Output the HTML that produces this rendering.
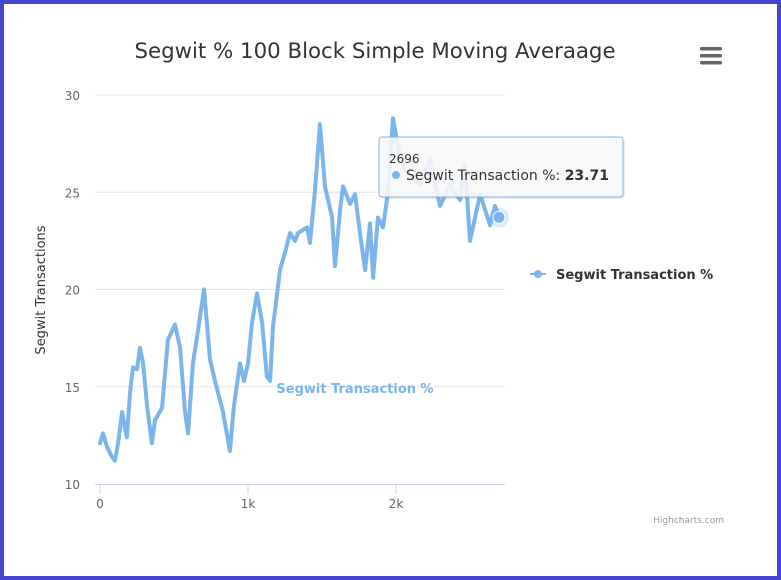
<!DOCTYPE html>
<html><head><meta charset="utf-8"><style>
html,body{margin:0;padding:0;background:#fff}
#wrap{position:relative;width:781px;height:580px;box-sizing:border-box;border:4px solid #4545d1;background:#fff;overflow:hidden}
svg{position:absolute;left:-4px;top:-4px}
text{font-family:"DejaVu Sans","Liberation Sans",sans-serif}
</style></head><body>
<div id="wrap">
<svg width="781" height="580" id="chart">
<text x="375" y="58" text-anchor="middle" font-size="21.3" fill="#333">Segwit % 100 Block Simple Moving Averaage</text>
<g>
<rect x="700" y="47" width="22" height="3.5" rx="1.5" fill="#666"/><rect x="700" y="54" width="22" height="3.5" rx="1.5" fill="#666"/><rect x="700" y="61" width="22" height="3.5" rx="1.5" fill="#666"/>
</g>
<text transform="translate(45,290) rotate(-90)" text-anchor="middle" font-size="13" fill="#333">Segwit Transactions</text>
<g id="grid"></g>
<g id="series"></g>
<text x="355" y="393" text-anchor="middle" font-size="13" font-weight="bold" fill="#7cb5ec">Segwit Transaction %</text>
<g>
<line x1="530" y1="274" x2="546" y2="274" stroke="#7cb5ec" stroke-width="2"/>
<circle cx="538" cy="274" r="4" fill="#7cb5ec"/>
<text x="556" y="279" font-size="13" font-weight="bold" fill="#333">Segwit Transaction %</text>
</g>
<text x="724" y="523" text-anchor="end" font-size="9" fill="#999">Highcharts.com</text>
<g id="tip">
<rect x="381" y="139" width="244" height="60" rx="3" fill="#000" fill-opacity="0.08"/>
<rect x="379" y="137" width="244" height="60" rx="3" fill="#f9f9f9" fill-opacity="0.88" stroke="#7cb5ec" stroke-width="1"/>
<text x="389" y="163" font-size="12" fill="#333" id="tipx">2696</text>
<circle cx="396" cy="175" r="4" fill="#7cb5ec"/>
<text x="406" y="180" font-size="14" fill="#333">Segwit Transaction %: <tspan font-weight="bold" id="tipv">23.71</tspan></text>
</g>
</svg>
</div>
<script>
const xIndex=[0,20,47,81,101,122,149,169,182,203,223,250,270,291,318,351,372,419,459,507,541,574,595,628,662,703,743,777,831,878,905,946,973,1000,1027,1061,1095,1128,1149,1169,1216,1250,1284,1318,1338,1399,1419,1453,1486,1520,1568,1588,1622,1642,1689,1723,1757,1791,1824,1845,1878,1912,1946,1980,2014,2061,2162,2230,2297,2365,2432,2466,2500,2568,2635,2669,2696];
const segwitPct=[12.1,12.6,11.9,11.4,11.2,12.1,13.7,12.9,12.4,14.7,16.0,15.9,17.0,16.2,14.0,12.1,13.3,13.9,17.4,18.2,17.0,13.7,12.6,16.2,17.9,20.0,16.4,15.3,13.7,11.7,14.0,16.2,15.3,16.2,18.3,19.8,18.3,15.5,15.3,18.1,21.0,21.9,22.9,22.5,22.9,23.2,22.4,25.1,28.5,25.3,23.7,21.2,24.1,25.3,24.4,24.9,22.9,21.0,23.4,20.6,23.7,23.2,25.0,28.8,27.3,26.1,25.4,26.7,24.3,25.4,24.6,26.4,22.5,24.9,23.3,24.3,23.71];
const yTicks=[10,15,20,25,30];
const xTicks=[0,1000,2000];
const xTickLabels=["0","1k","2k"];
const NS="http://www.w3.org/2000/svg";
const X=v=>100+v*0.148;
const Y=v=>484-(v-10)*19.45;
const grid=document.getElementById('grid'),ser=document.getElementById('series');
function mk(t,a,p){const e=document.createElementNS(NS,t);for(const k in a)e.setAttribute(k,a[k]);p.appendChild(e);return e;}
yTicks.forEach(t=>{
 if(t>10){const l=mk('line',{x1:95,x2:505,y1:Y(t),y2:Y(t),stroke:'#e6e6e6'},grid);
 
 }
 const tx=mk('text',{x:80,y:Y(t)+5,'text-anchor':'end','font-size':12,fill:'#666'},grid);tx.textContent=t;
 
 
});
const ax=mk('line',{x1:95,x2:505,y1:484.5,y2:484.5,stroke:'#ccd6eb'},grid);


xTicks.forEach((t,i)=>{
 mk('line',{x1:X(t),x2:X(t),y1:484,y2:494,stroke:'#ccd6eb'},grid);
 const tx=mk('text',{x:X(t),y:508,'text-anchor':'middle','font-size':12,fill:'#666'},grid);tx.textContent=xTickLabels[i];
 
 
});
const d=xIndex.map((x,i)=>(i?'L':'M')+X(x).toFixed(1)+','+Y(segwitPct[i]).toFixed(1)).join(' ');
const p=mk('path',{d:d,fill:'none',stroke:'#7cb5ec','stroke-width':4,'stroke-linejoin':'round','stroke-linecap':'round'},ser);


const n=xIndex.length-1;
mk('circle',{cx:X(xIndex[n]),cy:Y(segwitPct[n]),r:10,fill:'#7cb5ec','fill-opacity':0.25},ser);
const hp=mk('circle',{cx:X(xIndex[n]),cy:Y(segwitPct[n]),r:6,fill:'#7cb5ec',stroke:'#fff','stroke-width':1},ser);


document.getElementById('tipx').textContent=xIndex[n];
document.getElementById('tipv').textContent=segwitPct[n];
</script>
</body></html>
